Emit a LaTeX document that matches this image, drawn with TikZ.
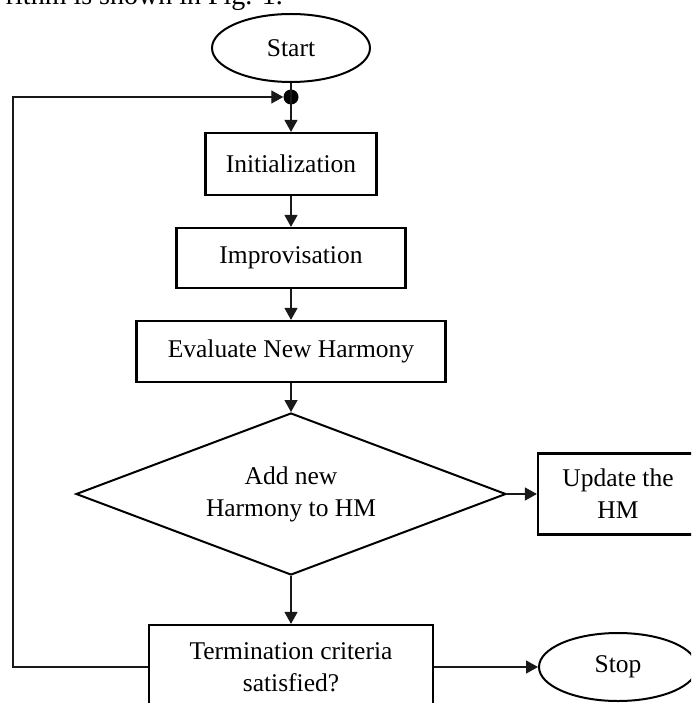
\documentclass[tikz,border=0pt]{standalone}
\usepackage{fontspec}
\setmainfont{Liberation Serif}
\usetikzlibrary{shapes.geometric,arrows.meta}
\begin{document}
\begin{tikzpicture}[x=1pt,y=-1pt,
  every node/.style={font=\fontsize{25.5}{32}\selectfont, align=center, inner sep=0pt},
  procbox/.style={draw, rectangle, line width=2.2pt},
  termshape/.style={draw, ellipse, line width=2pt, minimum width=158pt, minimum height=68pt},
  decbox/.style={draw, diamond, line width=2pt, shape aspect=2.654, minimum width=430pt, minimum height=162pt},
  conn/.style={line width=1.3pt, draw=black!90},
  arr/.style={conn, -{Triangle[length=12pt,width=13pt]}}
]
\clip (0,0) rectangle (691,703);
\fill[white] (0,0) rectangle (691,703);
\node[anchor=base east, font=\fontsize{28}{32}\selectfont] (cap) at (283,4.5) {rithm is shown in Fig. 1.};
\node[termshape] (start) at (291,48) {Start};
\node[circle, fill=black, minimum size=15pt] (dot) at (291,97) {};
\node[procbox, minimum width=171pt, minimum height=62pt] (init) at (291,164) {Initialization};
\node[procbox, minimum width=229pt, minimum height=60pt] (impr) at (291,258) {Improvisation};
\node[procbox, minimum width=309pt, minimum height=61pt] (eval) at (291,351.5) {Evaluate New Harmony};
\node[decbox] (dec) at (291,494) {Add new\\Harmony to HM};
\node[procbox, minimum width=160pt, minimum height=81pt] (upd) at (618,494) {Update the\\HM};
\node[procbox, minimum width=284pt, minimum height=84pt] (term) at (291,667) {Termination criteria\\satisfied?};
\node[termshape] (stop) at (618,667) {Stop};
\coordinate (lb) at (13,667);
\coordinate (lt) at (13,97);
\draw[conn] (start.south) -- (dot.center);
\draw[arr] (dot.center) -- (init.north);
\draw[arr] (init.south) -- (impr.north);
\draw[arr] (impr.south) -- (eval.north);
\draw[arr] (eval.south) -- (dec.north);
\draw[arr] (dec.east) -- (upd.west);
\draw[arr] (dec.south) -- (term.north);
\draw[arr] (term.east) -- (stop.west);
\draw[arr] (term.west) -- (lb) -- (lt) -- (dot.west);
\end{tikzpicture}
\end{document}
